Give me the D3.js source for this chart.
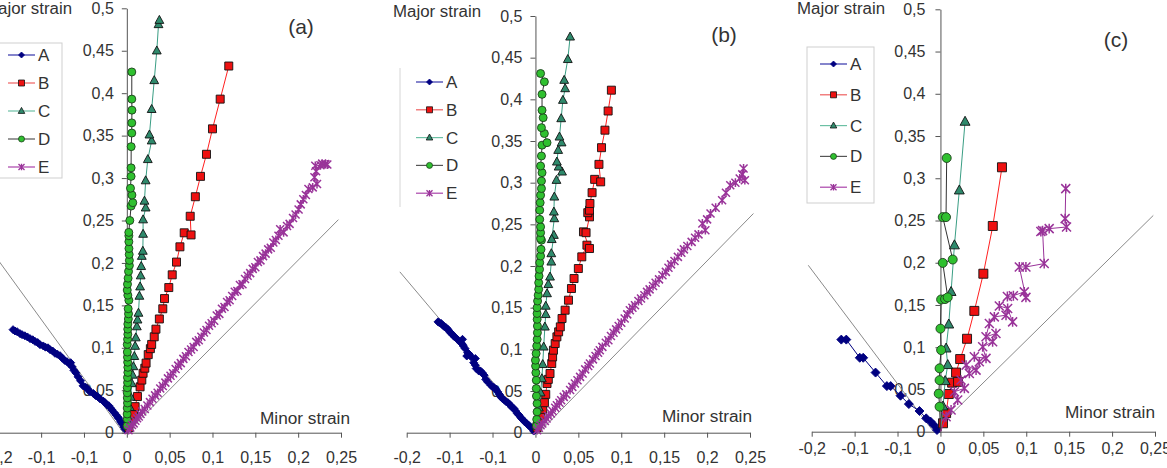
<!DOCTYPE html>
<html>
<head>
<meta charset="utf-8">
<script src="https://cdn.jsdelivr.net/npm/d3@7"></script>
<style>
    body { margin: 0; background: #fff; }
    svg text { font-family: "Liberation Sans", Arial, sans-serif; fill: #333; }
</style>
</head>
<body>
<svg id="chart" width="1167" height="468"></svg>
<script>
// axis ticks (Excel rounds the negative ticks to one decimal)
var xTicks = [-0.15, -0.1, -0.05, 0, 0.05, 0.1, 0.15, 0.2, 0.25];
var xTickLabels = ['-0,2', '-0,1', '-0,1', '0', '0,05', '0,1', '0,15', '0,2', '0,25'];
var yTicks = [0, 0.05, 0.1, 0.15, 0.2, 0.25, 0.3, 0.35, 0.4, 0.45, 0.5];
var yTickLabels = ['0', '0,05', '0,1', '0,15', '0,2', '0,25', '0,3', '0,35', '0,4', '0,45', '0,5'];
var seriesNames = ['A', 'B', 'C', 'D', 'E'];
var panelLabels = ['(a)', '(b)', '(c)'];
var xTitle = 'Minor strain';
var yTitle = 'Major strain';

// [minor strain, major strain]
var panelA_A = [[0, 0], [-0.002, 0.004], [-0.0035, 0.0068], [-0.0055, 0.0105], [-0.0072, 0.0128], [-0.0095, 0.0168], [-0.0102, 0.0182], [-0.0125, 0.021], [-0.0145, 0.0235], [-0.0172, 0.0268], [-0.019, 0.029], [-0.021, 0.0318], [-0.023, 0.0327], [-0.0255, 0.0355], [-0.0275, 0.0372], [-0.0312, 0.0398], [-0.034, 0.0425], [-0.0365, 0.0438], [-0.039, 0.0462], [-0.0429, 0.0481], [-0.0455, 0.0512], [-0.048, 0.0535], [-0.0511, 0.0552], [-0.054, 0.0612], [-0.0569, 0.0658], [-0.0595, 0.0705], [-0.0618, 0.0735], [-0.0639, 0.0777], [-0.0655, 0.0825], [-0.0672, 0.0812], [-0.0697, 0.0836], [-0.0725, 0.0852], [-0.0752, 0.0878], [-0.0779, 0.0907], [-0.081, 0.0925], [-0.0838, 0.0935], [-0.0865, 0.0962], [-0.0896, 0.0978], [-0.092, 0.1], [-0.095, 0.1008], [-0.0975, 0.1022], [-0.1013, 0.1037], [-0.104, 0.1062], [-0.107, 0.1075], [-0.1098, 0.1095], [-0.1129, 0.1108], [-0.116, 0.1128], [-0.119, 0.1142], [-0.1222, 0.1155], [-0.1246, 0.1167], [-0.128, 0.119], [-0.1305, 0.1198], [-0.1328, 0.1214]];
var panelA_B = [[0, 0], [0.0025, 0.006], [0.0058, 0.015], [0.0078, 0.022], [0.0097, 0.0307], [0.0124, 0.0426], [0.0155, 0.054], [0.0175, 0.062], [0.019, 0.07], [0.021, 0.076], [0.0225, 0.082], [0.025, 0.092], [0.0275, 0.099], [0.029, 0.104], [0.032, 0.113], [0.034, 0.122], [0.038, 0.134], [0.042, 0.146], [0.044, 0.158], [0.049, 0.171], [0.053, 0.186], [0.058, 0.201], [0.062, 0.219], [0.067, 0.2355], [0.075, 0.233], [0.074, 0.255], [0.08, 0.278], [0.086, 0.302], [0.093, 0.328], [0.1, 0.358], [0.109, 0.393], [0.119, 0.432]];
var panelA_C = [[0, 0], [0.002, 0.015], [0.0035, 0.03], [0.0045, 0.042], [0.0058, 0.058], [0.0068, 0.068], [0.0077, 0.078], [0.0088, 0.09], [0.0097, 0.102], [0.0105, 0.112], [0.0117, 0.125], [0.0125, 0.133], [0.0136, 0.141], [0.0147, 0.161], [0.0155, 0.172], [0.0162, 0.185], [0.0168, 0.196], [0.0175, 0.208], [0.0187, 0.214], [0.019, 0.234], [0.019, 0.251], [0.022, 0.265], [0.0206, 0.273], [0.022, 0.297], [0.0245, 0.322], [0.029, 0.344], [0.0264, 0.351], [0.029, 0.381], [0.032, 0.415], [0.035, 0.45], [0.037, 0.481], [0.038, 0.486]];
var panelA_D = [[0, 0], [0.0003, 0.008], [0.0005, 0.016], [0.0004, 0.022], [0.0005, 0.029], [0.0008, 0.035], [0.0006, 0.041], [0.0005, 0.047], [0.0005, 0.053], [0.0009, 0.059], [0.0008, 0.065], [0.0012, 0.071], [0.0012, 0.077], [0.001, 0.083], [0.0008, 0.089], [0.0006, 0.095], [0.0005, 0.104], [0.0009, 0.11], [0.0012, 0.116], [0.0011, 0.122], [0.0012, 0.128], [0.0018, 0.134], [0.002, 0.14], [0.0016, 0.146], [0.0024, 0.156], [0.0012, 0.162], [0.0005, 0.168], [0.0008, 0.175], [0.0015, 0.182], [0.002, 0.19], [0.003, 0.197], [0.003, 0.203], [0.0028, 0.21], [0.0025, 0.217], [0.0024, 0.225], [0.0024, 0.232], [0.0023, 0.236], [0.0035, 0.25], [0.005, 0.267], [0.007, 0.271], [0.006, 0.28], [0.0043, 0.288], [0.005, 0.302], [0.005, 0.312], [0.0051, 0.337], [0.0058, 0.353], [0.0058, 0.365], [0.006, 0.38], [0.0058, 0.393], [0.0058, 0.425]];
var panelA_E = [[0, 0], [0.002, 0.003], [0.004, 0.006], [0.006, 0.009], [0.008, 0.011], [0.01, 0.014], [0.012, 0.017], [0.014, 0.019], [0.016, 0.022], [0.018, 0.025], [0.021, 0.028], [0.024, 0.032], [0.027, 0.036], [0.03, 0.04], [0.033, 0.044], [0.036, 0.047], [0.039, 0.052], [0.042, 0.055], [0.045, 0.059], [0.048, 0.064], [0.051, 0.067], [0.054, 0.07], [0.057, 0.075], [0.06, 0.079], [0.063, 0.082], [0.066, 0.087], [0.069, 0.09], [0.072, 0.095], [0.075, 0.098], [0.078, 0.101], [0.081, 0.107], [0.084, 0.109], [0.087, 0.113], [0.09, 0.118], [0.093, 0.121], [0.096, 0.126], [0.099, 0.129], [0.102, 0.132], [0.105, 0.138], [0.108, 0.14], [0.111, 0.146], [0.114, 0.148], [0.117, 0.154], [0.12, 0.156], [0.123, 0.161], [0.126, 0.166], [0.129, 0.167], [0.132, 0.174], [0.135, 0.175], [0.138, 0.181], [0.141, 0.185], [0.144, 0.188], [0.147, 0.193], [0.15, 0.195], [0.153, 0.201], [0.156, 0.203], [0.159, 0.208], [0.162, 0.211], [0.165, 0.216], [0.168, 0.218], [0.171, 0.224], [0.174, 0.227], [0.177, 0.232], [0.179, 0.2396], [0.183, 0.236], [0.187, 0.2435], [0.19, 0.246], [0.194, 0.253], [0.197, 0.257], [0.2005, 0.263], [0.203, 0.269], [0.206, 0.275], [0.209, 0.28], [0.212, 0.287], [0.217, 0.289], [0.222, 0.293], [0.219, 0.301], [0.221, 0.308], [0.22, 0.3144], [0.226, 0.315], [0.2317, 0.3164], [0.228, 0.317], [0.234, 0.316]];
var panelA_guides = [[[-0.165, 0.224], [-0.004, 0]], [[0, 0], [0.247, 0.251]]];

var panelB_A = [[0, 0], [-0.002, 0.002], [-0.004, 0.005], [-0.006, 0.007], [-0.008, 0.009], [-0.01, 0.011], [-0.0125, 0.013], [-0.015, 0.016], [-0.017, 0.018], [-0.019, 0.021], [-0.0211, 0.023], [-0.023, 0.026], [-0.025, 0.029], [-0.028, 0.031], [-0.03, 0.034], [-0.032, 0.036], [-0.034, 0.037], [-0.036, 0.039], [-0.0385, 0.041], [-0.0404, 0.043], [-0.042, 0.046], [-0.044, 0.049], [-0.046, 0.052], [-0.048, 0.054], [-0.05, 0.055], [-0.052, 0.057], [-0.0558, 0.061], [-0.058, 0.064], [-0.0597, 0.069], [-0.062, 0.072], [-0.064, 0.074], [-0.066, 0.074], [-0.069, 0.077], [-0.07, 0.081], [-0.072, 0.084], [-0.07, 0.089], [-0.075, 0.091], [-0.077, 0.094], [-0.079, 0.096], [-0.08, 0.092], [-0.082, 0.101], [-0.084, 0.104], [-0.085, 0.106], [-0.087, 0.108], [-0.085, 0.112], [-0.091, 0.112], [-0.0943, 0.115], [-0.096, 0.117], [-0.098, 0.119], [-0.1, 0.121], [-0.102, 0.124], [-0.104, 0.126], [-0.106, 0.127], [-0.108, 0.129], [-0.1097, 0.131], [-0.112, 0.132], [-0.1135, 0.133]];
var panelB_B = [[0, 0], [0.002, 0.006], [0.004, 0.012], [0.0065, 0.021], [0.0085, 0.028], [0.0105, 0.036], [0.012, 0.046], [0.0135, 0.059], [0.015, 0.064], [0.017, 0.071], [0.019, 0.083], [0.02, 0.091], [0.021, 0.099], [0.023, 0.107], [0.025, 0.115], [0.027, 0.121], [0.029, 0.127], [0.031, 0.137], [0.0346, 0.147], [0.0385, 0.159], [0.042, 0.173], [0.045, 0.185], [0.05, 0.197], [0.054, 0.211], [0.06, 0.225], [0.063, 0.221], [0.056, 0.241], [0.059, 0.24], [0.063, 0.259], [0.061, 0.264], [0.063, 0.267], [0.0635, 0.275], [0.066, 0.288], [0.069, 0.304], [0.076, 0.301], [0.074, 0.322], [0.077, 0.342], [0.081, 0.363], [0.0847, 0.386], [0.0885, 0.411]];
var panelB_C = [[0, 0], [0.002, 0.015], [0.004, 0.03], [0.006, 0.048], [0.0075, 0.065], [0.0085, 0.082], [0.0096, 0.103], [0.011, 0.127], [0.012, 0.142], [0.012, 0.152], [0.0135, 0.167], [0.015, 0.178], [0.017, 0.187], [0.0185, 0.205], [0.0185, 0.215], [0.0215, 0.237], [0.019, 0.232], [0.022, 0.257], [0.0215, 0.265], [0.022, 0.283], [0.0245, 0.303], [0.031, 0.313], [0.027, 0.319], [0.025, 0.325], [0.0265, 0.339], [0.0305, 0.348], [0.028, 0.355], [0.03, 0.377], [0.032, 0.399], [0.0346, 0.413], [0.0335, 0.423], [0.0377, 0.448], [0.0404, 0.475]];
var panelB_D = [[0, 0], [0.001, 0.008], [0.0015, 0.016], [0.0019, 0.025], [0.0019, 0.035], [0.0012, 0.044], [0.001, 0.053], [0.001, 0.063], [0.0005, 0.072], [0.0002, 0.08], [0, 0.087], [0.0008, 0.095], [0.0015, 0.104], [0.002, 0.112], [0.0023, 0.12], [0.0023, 0.128], [0.002, 0.136], [0.0019, 0.143], [0.0019, 0.15], [0.0025, 0.158], [0.0032, 0.165], [0.0038, 0.172], [0.0038, 0.18], [0.0042, 0.188], [0.0048, 0.196], [0.005, 0.204], [0.006, 0.212], [0.0065, 0.22], [0.007, 0.231], [0.006, 0.233], [0.006, 0.24], [0.006, 0.247], [0.005, 0.256], [0.005, 0.267], [0.0055, 0.276], [0.006, 0.285], [0.007, 0.293], [0.007, 0.302], [0.0077, 0.312], [0.006, 0.32], [0.007, 0.332], [0.0077, 0.345], [0.0135, 0.348], [0.0104, 0.359], [0.007, 0.366], [0.009, 0.378], [0.0077, 0.387], [0.0077, 0.406], [0.0104, 0.421], [0.006, 0.431]];
var panelB_E = [[0, 0], [0.002, 0.003], [0.004, 0.006], [0.006, 0.009], [0.008, 0.011], [0.011, 0.014], [0.013, 0.017], [0.015, 0.02], [0.018, 0.023], [0.02, 0.026], [0.023, 0.03], [0.025, 0.033], [0.028, 0.036], [0.03, 0.039], [0.033, 0.043], [0.036, 0.046], [0.0404, 0.0512], [0.043, 0.055], [0.046, 0.059], [0.049, 0.063], [0.052, 0.067], [0.055, 0.071], [0.058, 0.076], [0.0615, 0.08], [0.0635, 0.083], [0.067, 0.088], [0.07, 0.092], [0.073, 0.096], [0.075, 0.099], [0.078, 0.103], [0.082, 0.108], [0.085, 0.111], [0.088, 0.116], [0.091, 0.12], [0.094, 0.124], [0.097, 0.128], [0.1, 0.132], [0.104, 0.137], [0.107, 0.142], [0.11, 0.147], [0.113, 0.15], [0.116, 0.153], [0.12, 0.158], [0.123, 0.161], [0.127, 0.165], [0.13, 0.169], [0.133, 0.172], [0.137, 0.176], [0.14, 0.18], [0.144, 0.184], [0.148, 0.189], [0.152, 0.193], [0.155, 0.198], [0.158, 0.202], [0.162, 0.206], [0.166, 0.211], [0.17, 0.216], [0.173, 0.22], [0.177, 0.224], [0.182, 0.229], [0.186, 0.234], [0.19, 0.238], [0.198, 0.243], [0.1945, 0.251], [0.2, 0.256], [0.204, 0.263], [0.21, 0.27], [0.2175, 0.279], [0.222, 0.288], [0.227, 0.297], [0.233, 0.3], [0.238, 0.305], [0.244, 0.303], [0.241, 0.31], [0.2425, 0.317]];
var panelB_guides = [[[-0.158, 0.193], [0, 0]], [[0.004, 0], [0.254, 0.263]]];

var panelC_A = [[0, 0], [-0.004, 0.002], [-0.0078, 0.008], [-0.0116, 0.012], [-0.0166, 0.0158], [-0.0244, 0.0245], [-0.0368, 0.0327], [-0.0465, 0.0426], [-0.058, 0.054], [-0.0624, 0.054], [-0.0756, 0.07], [-0.09, 0.0875], [-0.094, 0.0875], [-0.1097, 0.109], [-0.1155, 0.109]];
var panelC_B = [[0, 0], [0.003, 0.01], [0.0066, 0.022], [0.0097, 0.0446], [0.0136, 0.058], [0.0205, 0.059], [0.0182, 0.07], [0.023, 0.086], [0.031, 0.11], [0.0395, 0.143], [0.05, 0.187], [0.061, 0.2435], [0.0717, 0.313]];
var panelC_C = [[0, 0], [0.003, 0.03], [0.0055, 0.06], [0.0085, 0.079], [0.0066, 0.0986], [0.0097, 0.127], [0.0124, 0.1655], [0.0163, 0.2207], [0.022, 0.2857], [0.0287, 0.367]];
var panelC_D = [[0, 0], [-0.001, 0.0296], [-0.002, 0.045], [-0.001, 0.061], [-0.001, 0.075], [0.0008, 0.0966], [0, 0.122], [0.0008, 0.1565], [0.0054, 0.157], [0.0085, 0.159], [0.0027, 0.1998], [0.0143, 0.2038], [0.0027, 0.254], [0.0065, 0.254], [0.0073, 0.324]];
var panelC_E = [[0, 0], [0.0066, 0.0177], [0.0124, 0.0256], [0.0201, 0.0375], [0.0163, 0.0473], [0.0279, 0.0513], [0.024, 0.0611], [0.0337, 0.069], [0.0299, 0.0788], [0.0415, 0.0729], [0.0453, 0.0827], [0.0395, 0.0887], [0.0531, 0.0868], [0.0492, 0.1005], [0.0608, 0.1064], [0.0647, 0.1163], [0.0531, 0.1123], [0.057, 0.1281], [0.0628, 0.1359], [0.0764, 0.1379], [0.0841, 0.13], [0.0783, 0.1458], [0.0686, 0.1489], [0.078, 0.16], [0.085, 0.161], [0.0977, 0.1655], [0.0996, 0.159], [0.0919, 0.195], [0.0996, 0.195], [0.1209, 0.199], [0.119, 0.238], [0.117, 0.237], [0.1267, 0.2404], [0.1469, 0.2423], [0.1453, 0.2522], [0.146, 0.2877]];
var panelC_guides = [[[-0.154, 0.197], [-0.008, 0]], [[0.008, 0.016], [0.248, 0.256]]];

// series look, Excel-like
var seriesStyle = {
    A: { line: '#000080', fill: '#000080', stroke: '#000080', legendLine: '#3333aa', shape: 'diamond' },
    B: { line: '#ff2020', fill: '#ee1111', stroke: '#111', legendLine: '#ee6060', shape: 'square' },
    C: { line: '#3a9e84', fill: '#2f8a6c', stroke: '#111', legendLine: '#6cc0a4', shape: 'triangle' },
    D: { line: '#333', fill: '#2fc02f', stroke: '#1d3d1d', legendLine: '#555', shape: 'circle' },
    E: { line: '#993399', fill: 'none', stroke: '#993399', legendLine: '#aa44aa', shape: 'star' }
};

var panels = [
    {
        series: [panelA_A, panelA_B, panelA_C, panelA_D, panelA_E], guides: panelA_guides,
        xRange: [-1.7, 341], yRange: [432.7, 8.3], xLabelDy: 30, yLabelGap: 13, m: 4,
        yTitle: [72, 14], xTitle: [350, 424], tag: [301, 34],
        legend: { box: true, x: -6, y: 43, w: 68, h: 135, row0: 55, step: 28, lineX: 8 }
    },
    {
        series: [panelB_A, panelB_B, panelB_C, panelB_D, panelB_E], guides: panelB_guides,
        xRange: [406.7, 750], yRange: [432.7, 16], xLabelDy: 30, yLabelGap: 13, m: 4,
        yTitle: [481, 17], xTitle: [752, 422], tag: [724, 42],
        legend: { box: false, x: 400, y: 68, w: 0, h: 139, row0: 82, step: 27.8, lineX: 416 }
    },
    {
        series: [panelC_A, panelC_B, panelC_C, panelC_D, panelC_E], guides: panelC_guides,
        xRange: [811.7, 1155], yRange: [431.7, 9.3], xLabelDy: 22, yLabelGap: 15, m: 4.5,
        yTitle: [885, 13.5], xTitle: [1155, 418], tag: [1116, 47],
        legend: { box: true, x: 807, y: 47, w: 67, h: 156, row0: 64, step: 30.8, lineX: 820 }
    }
];

var svg = d3.select('#chart');

var markerPath = function (shape, r) {
    switch (shape) {
        case 'diamond':
            return 'M0,' + (-r) + 'L' + r + ',0L0,' + r + 'L' + (-r) + ',0Z';
        case 'square':
            return 'M' + (-r) + ',' + (-r) + 'h' + (2 * r) + 'v' + (2 * r) + 'h' + (-2 * r) + 'Z';
        case 'triangle':
            return 'M0,' + (-r * 1.2) + 'L' + (r * 1.1) + ',' + (r * 0.8) + 'L' + (-r * 1.1) + ',' + (r * 0.8) + 'Z';
        case 'circle':
            return d3.symbol(d3.symbolCircle, Math.PI * r * r)();
        default:
            return 'M' + (-r) + ',' + (-r) + 'L' + r + ',' + r + 'M' + (-r) + ',' + r + 'L' + r + ',' + (-r) + 'M0,' + (-r * 1.1) + 'L0,' + (r * 1.1);
    }
};

panels.forEach(function (p, pi) {
    var x = d3.scaleLinear().domain([-0.15, 0.25]).range(p.xRange);
    var y = d3.scaleLinear().domain([0, 0.5]).range(p.yRange);
    var g = svg.append('g');

    // axes
    var xAxis = d3.axisBottom(x)
        .tickValues(xTicks)
        .tickSize(5)
        .tickSizeOuter(0)
        .tickFormat(function (d, i) { return xTickLabels[i]; });
    var yAxis = d3.axisLeft(y)
        .tickValues(yTicks)
        .tickSize(5)
        .tickSizeOuter(0)
        .tickFormat(function (d, i) { return yTickLabels[i]; });

    var gx = g.append('g')
        .attr('transform', 'translate(0,' + y(0) + ')')
        .call(xAxis);
    gx.selectAll('text')
        .attr('y', p.xLabelDy)
        .attr('dy', 0)
        .style('font-size', '16px');
    var gy = g.append('g')
        .attr('transform', 'translate(' + x(0) + ',0)')
        .call(yAxis);
    gy.selectAll('text')
        .attr('x', -p.yLabelGap)
        .style('font-size', '16px');
    g.selectAll('.domain, .tick line').attr('stroke', '#555');
    g.selectAll('.tick text').attr('fill', '#333');

    // reference diagonals
    g.selectAll('.guide')
        .data(p.guides)
        .enter().append('line')
        .attr('class', 'guide')
        .attr('x1', function (d) { return x(d[0][0]); })
        .attr('y1', function (d) { return y(d[0][1]); })
        .attr('x2', function (d) { return x(d[1][0]); })
        .attr('y2', function (d) { return y(d[1][1]); })
        .attr('stroke', '#8a8a8a')
        .attr('stroke-width', 1);

    // titles
    g.append('text')
        .attr('x', p.yTitle[0]).attr('y', p.yTitle[1])
        .attr('text-anchor', 'end')
        .style('font-size', '16px')
        .attr('textLength', 88).attr('lengthAdjust', 'spacingAndGlyphs')
        .text(yTitle);
    g.append('text')
        .attr('x', p.xTitle[0]).attr('y', p.xTitle[1])
        .attr('text-anchor', 'end')
        .style('font-size', '16px')
        .attr('textLength', 90).attr('lengthAdjust', 'spacingAndGlyphs')
        .text(xTitle);
    g.append('text')
        .attr('x', p.tag[0]).attr('y', p.tag[1])
        .attr('text-anchor', 'middle')
        .style('font-size', '21px')
        .text(panelLabels[pi]);

    // series
    var line = d3.line()
        .x(function (d) { return x(d[0]); })
        .y(function (d) { return y(d[1]); });

    p.series.forEach(function (data, si) {
        var st = seriesStyle[seriesNames[si]];
        g.append('path')
            .datum(data)
            .attr('d', line)
            .attr('fill', 'none')
            .attr('stroke', st.line)
            .attr('stroke-width', 1);
        g.append('g').selectAll('path')
            .data(data.slice(1))
            .enter().append('path')
            .attr('transform', function (d) { return 'translate(' + x(d[0]) + ',' + y(d[1]) + ')'; })
            .attr('d', markerPath(st.shape, p.m))
            .attr('fill', st.fill)
            .attr('stroke', st.stroke)
            .attr('stroke-width', st.shape === 'star' ? 1.5 : 0.9);
    });

    // legend
    var lg = p.legend;
    if (lg.box) {
        g.append('rect')
            .attr('x', lg.x).attr('y', lg.y)
            .attr('width', lg.w).attr('height', lg.h)
            .attr('fill', '#fff')
            .attr('stroke', '#cfcfcf');
    } else {
        g.append('line')
            .attr('x1', lg.x).attr('x2', lg.x)
            .attr('y1', lg.y).attr('y2', lg.y + lg.h)
            .attr('stroke', '#d6d6d6');
    }
    seriesNames.forEach(function (name, i) {
        var st = seriesStyle[name];
        var ly = lg.row0 + i * lg.step;
        g.append('line')
            .attr('x1', lg.lineX).attr('x2', lg.lineX + 27)
            .attr('y1', ly).attr('y2', ly)
            .attr('stroke', st.legendLine)
            .attr('stroke-width', 1.2);
        g.append('path')
            .attr('transform', 'translate(' + (lg.lineX + 13.5) + ',' + ly + ')')
            .attr('d', markerPath(st.shape, 3))
            .attr('fill', st.fill)
            .attr('stroke', st.stroke)
            .attr('stroke-width', st.shape === 'star' ? 1.3 : 0.8);
        g.append('text')
            .attr('x', lg.lineX + 30).attr('y', ly + 6)
            .style('font-size', '17px')
            .text(name);
    });
});
</script>
</body>
</html>
